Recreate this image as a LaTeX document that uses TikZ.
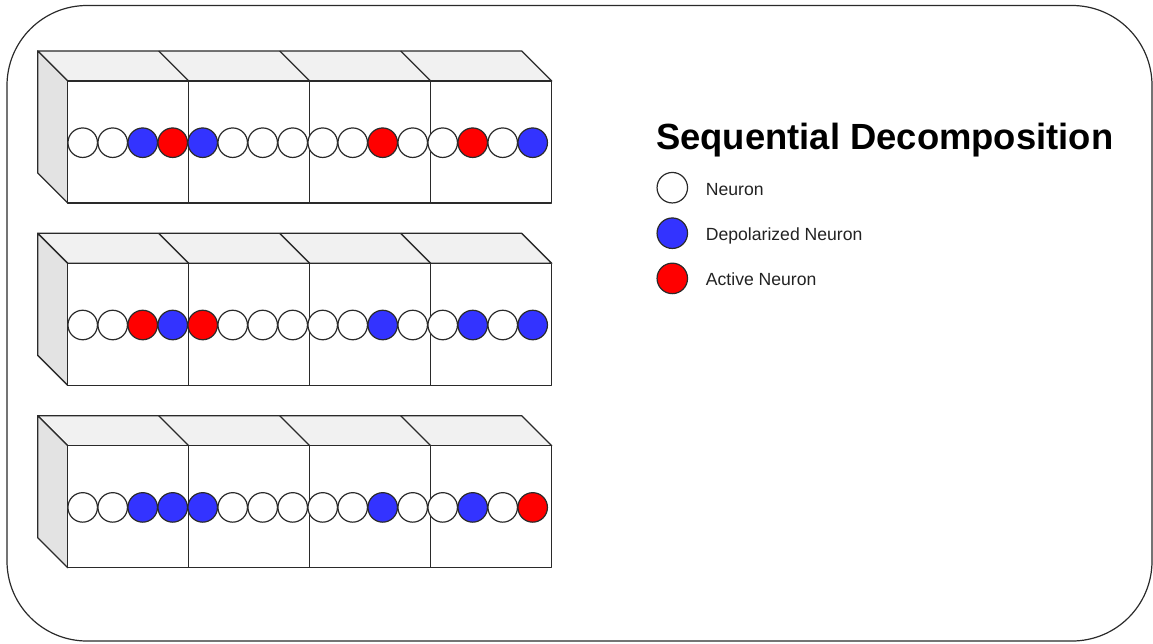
\documentclass[tikz,border=0pt]{standalone}
\usepackage{fontspec}
\setmainfont{Liberation Sans}
\definecolor{edge}{HTML}{2A2A2A}
\definecolor{topgray}{HTML}{F1F1F1}
\definecolor{sidegray}{HTML}{E3E3E3}
\definecolor{depol}{HTML}{3333FF}
\definecolor{active}{HTML}{FF0000}
\definecolor{labelgray}{HTML}{222222}
\begin{document}
\begin{tikzpicture}[x=1pt,y=-1pt,
  line join=round,
  frame/.style={draw=edge,line width=1.2pt,rounded corners=80pt},
  facebox/.style={draw=edge,line width=1.3pt,fill=white},
  topbox/.style={draw=edge,line width=1.3pt,fill=topgray},
  sidebox/.style={draw=edge,line width=1.3pt,fill=sidegray},
  neuron/.style={circle,draw=edge,line width=1.2pt,minimum size=29.5pt,inner sep=0pt},
  legendmark/.style={circle,draw=edge,line width=1.2pt,minimum size=30.5pt,inner sep=0pt},
  legendtext/.style={anchor=base west,inner sep=0pt,text=labelgray,font=\fontsize{17.6pt}{20pt}\selectfont},
  titletext/.style={anchor=base west,inner sep=0pt,font=\fontsize{36.4pt}{40pt}\selectfont\bfseries}]
\useasboundingbox (0,0) rectangle (1153,643);

% outer frame
\draw[frame] (7,5.5) rectangle (1152,641);

% three rows of four cubes, each holding four neurons
\foreach \r/\yy/\pat in {
  1/81/{white,white,depol,active,depol,white,white,white,white,white,active,white,white,active,white,depol},
  2/263.3/{white,white,active,depol,active,white,white,white,white,white,depol,white,white,depol,white,depol},
  3/445.7/{white,white,depol,depol,depol,white,white,white,white,white,depol,white,white,depol,white,active}}{
  % top face
  \draw[topbox] (37.7,\yy-30) -- (521.7,\yy-30) -- (551.7,\yy) -- (67.7,\yy) -- cycle;
  \foreach \k in {1,2,3}
    \draw[edge,line width=1.3pt] (37.7+121*\k,\yy-30) -- (67.7+121*\k,\yy);
  % left face
  \draw[sidebox] (37.7,\yy-30) -- (67.7,\yy) -- (67.7,\yy+122) -- (37.7,\yy+92) -- cycle;
  % front faces
  \foreach \k in {0,1,2,3}
    \draw[facebox] (67.7+121*\k,\yy) rectangle ++(121,122);
  % neurons
  \foreach \c [count=\i from 0] in \pat
    \node[neuron,fill=\c] (n\r-\i) at (82.7+30*\i,\yy+61.7) {};
}

% legend
\node[titletext] (title) at (656,149.3) {Sequential Decomposition};
\node[legendmark,fill=white]  (lgw) at (672.3,187.7) {};
\node[legendmark,fill=depol]  (lgb) at (672.3,233.2) {};
\node[legendmark,fill=active] (lgr) at (672.3,278.4) {};
\node[legendtext] (tw) at (705.7,195.2) {Neuron};
\node[legendtext] (tb) at (705.7,240.6) {Depolarized Neuron};
\node[legendtext] (tr) at (705.7,285.8) {Active Neuron};
\end{tikzpicture}
\end{document}
